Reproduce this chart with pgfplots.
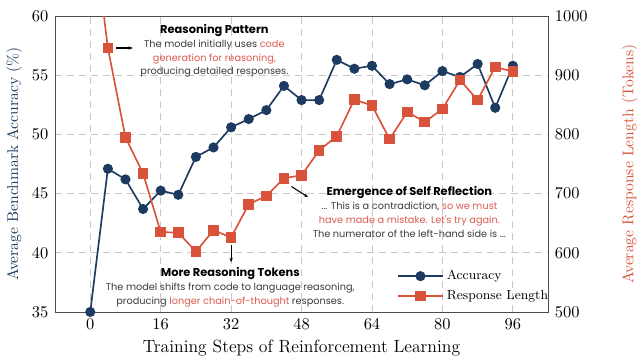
\documentclass[border=0pt]{standalone}
\usepackage{pgfplots}
\pgfplotsset{compat=1.18}
\usepackage{fontspec}
\newfontfamily\annfont{Poppins}
\usetikzlibrary{arrows.meta}
\definecolor{accblue}{HTML}{1D3A60}
\definecolor{lenred}{HTML}{D9533C}
\definecolor{hlred}{HTML}{DC5A50}
\definecolor{anngray}{HTML}{3A3A3A}
\definecolor{gridgray}{HTML}{C8C8C8}

\pgfplotstableread{
step acc
0 35.0
4 47.1
8 46.2
12 43.7
16 45.25
20 44.9
24 48.1
28 48.9
32 50.6
36 51.3
40 52.05
44 54.1
48 52.9
52 52.9
56 56.3
60 55.55
64 55.8
68 54.25
72 54.65
76 54.15
80 55.35
84 54.85
88 55.95
92 52.25
96 55.8
}\acctable

\pgfplotstableread{
step len
0 1190
4 946
8 795
12 734
16 635
20 634
24 602
28 638
32 626
36 682
40 696
44 726
48 731
52 773
56 797
60 859
64 849
68 792
72 838
76 821
80 843
84 892
88 858
92 914
96 906
}\lentable

\begin{document}
\begin{tikzpicture}
\pgfplotsset{
  common/.style={
    width=328.7pt, height=197.3pt, scale only axis,
    at={(0,0)}, anchor=south west,
    xmin=-8, xmax=104,
    xtick={0,16,32,48,64,80,96},
    tick style={draw=none},
    /pgf/number format/1000 sep={},
    ticklabel style={font=\fontsize{11.3}{13}\selectfont},
    label style={font=\fontsize{10.4}{12}\selectfont},
    axis line style={draw=black!70},
  }
}
\begin{axis}[common,
  ymin=35, ymax=60, ytick={35,40,45,50,55,60},
  grid=major,
  major grid style={draw=gridgray, line width=0.6pt, dash pattern=on 4.5pt off 3.5pt},
  xlabel={Training Steps of Reinforcement Learning},
  ylabel={\color{accblue}Average Benchmark Accuracy (\%)},
  xlabel style={at={(axis description cs:0.5,-0.122)}, anchor=center, font=\fontsize{11.8}{13}\selectfont},
  ylabel style={at={(axis description cs:-0.083,0.5)}, anchor=center},
  yticklabel style={xshift=-1pt},
  xticklabel style={yshift=-1pt},
  clip=true,
]
\addplot[accblue, line width=1.1pt, mark=*, mark size=2.8pt, mark options={fill=accblue, draw=accblue}] table[x=step, y=acc] {\acctable};

% Annotation 1
\node[align=center, font=\annfont\fontsize{6.5}{9.2}\selectfont, text=anngray] at (axis cs:28.2,57.05)
  {{\bfseries\color{black}\fontsize{7.6}{9.6}\selectfont Reasoning Pattern}\\
   The model initially uses \textcolor{hlred}{code}\\
   \textcolor{hlred}{generation for reasoning,}\\
   producing detailed responses.};
\draw[-{Stealth[length=3pt]}, line width=0.7pt] (axis cs:5.9,57.3) -- (axis cs:9.7,57.3);

% Annotation 2
\node[align=center, font=\annfont\fontsize{6.5}{9.2}\selectfont, text=anngray] at (axis cs:72.5,43.45)
  {{\bfseries\color{black}\fontsize{7.6}{9.6}\selectfont Emergence of Self Reflection}\\
   ... This is a contradiction, \textcolor{hlred}{so we must}\\
   \textcolor{hlred}{have made a mistake. Let's try again.}\\
   The numerator of the left-hand side is ...};
\draw[-{Stealth[length=3pt]}, line width=0.7pt] (axis cs:45.7,45.6) -- (axis cs:49.5,44.7);

% Annotation 3
\node[align=center, font=\annfont\fontsize{6.5}{9.2}\selectfont, text=anngray] at (axis cs:31.8,37.1)
  {{\bfseries\color{black}\fontsize{7.6}{9.6}\selectfont More Reasoning Tokens}\\
   The model shifts from code to language reasoning,\\
   producing \textcolor{hlred}{longer chain-of-thought} responses.};
\draw[-{Stealth[length=3pt]}, line width=0.7pt] (axis cs:32,40.65) -- (axis cs:32,39.2);
\end{axis}

\begin{axis}[common,
  ymin=500, ymax=1000, ytick={500,600,700,800,900,1000},
  axis y line*=right,
  axis x line=none,
  ylabel={\color{lenred}Average Response Length (Tokens)},
  ylabel style={at={(axis description cs:1.165,0.5)}, anchor=center},
  yticklabel style={xshift=1pt},
  clip=true,
  legend style={at={(axis description cs:0.69,0.157)}, anchor=north west, draw=none, fill=none,
    font=\fontsize{8.8}{10}\selectfont, row sep=1.5pt, inner sep=1pt},
  legend cell align=left,
  legend image code/.code={\draw[mark repeat=2, mark phase=2, #1] plot coordinates {(0cm,0cm) (0.53cm,0cm) (1.06cm,0cm)};},
]
\addlegendimage{accblue, line width=1.1pt, mark=*, mark size=2.8pt, mark options={fill=accblue, draw=accblue}}
\addlegendentry{Accuracy}
\addplot[lenred, line width=1.1pt, mark=square*, mark size=3pt, mark options={fill=lenred, draw=lenred}] table[x=step, y=len] {\lentable};
\addlegendentry{Response Length}
\end{axis}
\pgfresetboundingbox
\path[use as bounding box] (-36.7pt,-32pt) rectangle (390pt,208pt);
\end{tikzpicture}
\end{document}
